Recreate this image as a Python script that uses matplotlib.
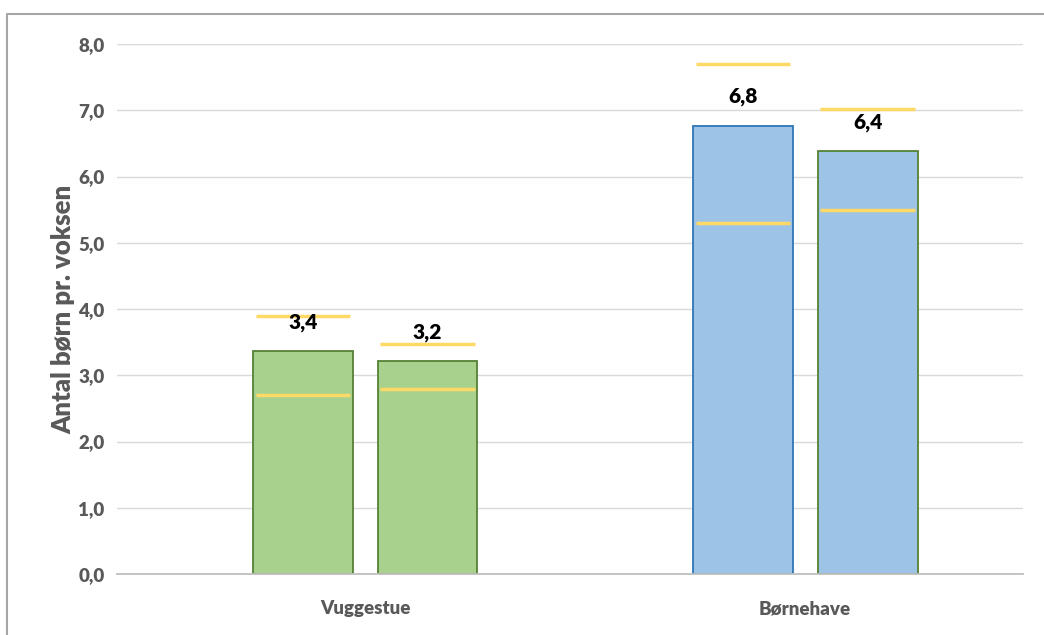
import matplotlib
matplotlib.use("Agg")
import matplotlib.pyplot as plt
from matplotlib.lines import Line2D

# Data
categories = ["Vuggestue", "Børnehave"]
bar_values = [[3.36, 3.21], [6.76, 6.38]]          # two bars per category
upper_marks = [[3.89, 3.47], [7.70, 7.02]]          # upper yellow markers
lower_marks = [[2.70, 2.79], [5.30, 5.49]]          # lower yellow markers
y_ticks = [0, 1, 2, 3, 4, 5, 6, 7, 8]

fill_colors = [["#A9D18E", "#A9D18E"], ["#9DC3E6", "#9DC3E6"]]
edge_colors = [["#548235", "#548235"], ["#2E75B6", "#548235"]]
marker_color = "#FFD966"

plt.rcParams["font.family"] = ["Lato", "DejaVu Sans"]

W, H = 1044, 635
fig = plt.figure(figsize=(W / 100, H / 100), dpi=100)
ax = fig.add_axes([117 / W, 61 / H, (1023 - 117) / W, (574 - 44) / H])

offsets = [-0.141, 0.142]
width = 0.227
for i, cat in enumerate(categories):
    for j in range(2):
        x = i + offsets[j]
        v = bar_values[i][j]
        ax.bar(x, v, width=width, color=fill_colors[i][j],
               edgecolor=edge_colors[i][j], linewidth=1.3, zorder=3)
        half = width / 2 - 0.006
        for m in (upper_marks[i][j], lower_marks[i][j]):
            ax.plot([x - half, x + half], [m, m], color=marker_color,
                    lw=2.5, solid_capstyle="butt", zorder=4)
        ax.annotate(f"{v:.1f}".replace(".", ","), (x, v), xytext=(0, 21),
                    textcoords="offset points", ha="center", va="center",
                    fontsize=15, fontweight="heavy", color="#000000", zorder=5)

ax.set_xlim(-0.5636, 1.495)
ax.set_ylim(0, 8)
ax.set_yticks(y_ticks)
ax.set_yticklabels([f"{t:.1f}".replace(".", ",") for t in y_ticks])
ax.set_xticks(range(len(categories)))
ax.set_xticklabels(categories)
ax.tick_params(axis="both", length=0, labelsize=13.5, labelcolor="#595959")
for lbl in ax.get_xticklabels() + ax.get_yticklabels():
    lbl.set_fontweight("heavy")
ax.tick_params(axis="y", pad=9)
ax.tick_params(axis="x", pad=19)

ax.grid(axis="y", color="#D9D9D9", lw=1, zorder=0)
ax.set_axisbelow(True)
for s in ["top", "right", "left"]:
    ax.spines[s].set_visible(False)
ax.spines["bottom"].set_color("#BFBFBF")
ax.spines["bottom"].set_linewidth(1.3)
ax.spines["bottom"].set_zorder(6)

ax.set_ylabel("Antal børn pr. voksen", fontsize=18.5, fontweight="heavy",
              color="#595959", labelpad=2)

# outer chart frame
fig.add_artist(Line2D([7 / W, 7 / W, 1.0], [0, 1 - 14 / H, 1 - 14 / H],
                      transform=fig.transFigure, color="#A6A6A6", lw=1.5))

fig.savefig("out.png", dpi=100)
